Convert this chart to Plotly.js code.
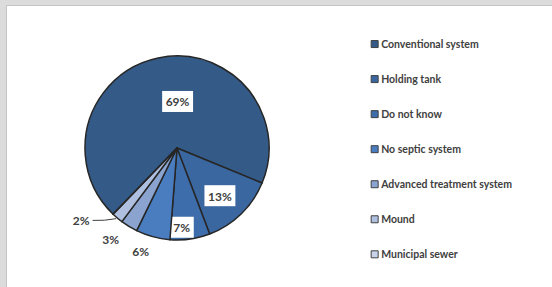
<!DOCTYPE html>
<html>
<head>
<meta charset="utf-8">
<script src="https://cdn.plot.ly/plotly-3.0.1.min.js"></script>
<style>
html,body{margin:0;padding:0;background:#fff;}
#wrap{position:relative;width:552px;height:287px;overflow:hidden;}
#chart{position:absolute;left:0;top:0;width:552px;height:287px;}
.deco{position:absolute;pointer-events:none;}
</style>
</head>
<body>
<div id="wrap">
<div id="chart"></div>
<div class="deco" style="left:0;top:0;width:552px;height:5px;background:#dcdcdc;"></div>
<div class="deco" style="left:0;top:0;width:6px;height:287px;background:#dcdcdc;"></div>
<div class="deco" style="left:6px;top:5px;width:546px;height:1px;background:#c4c4c4;"></div>
<div class="deco" style="left:6px;top:5px;width:1px;height:282px;background:#c4c4c4;"></div>
</div>
<script>
var categories = ["Conventional system", "Holding tank", "Do not know", "No septic system", "Advanced treatment system", "Mound", "Municipal sewer"];
var shares = [69, 13, 7, 6, 3, 2, 0];
var sliceColors = ["#345a88", "#3a67a0", "#3e6dab", "#4a7dc0", "#8aa3cf", "#afbfdf", "#c9d3e9"];
var labelPositions = ["inside", "inside", "inside", "outside", "outside", "outside", "none"];
// pixel nudges applied to the library-placed labels (style only)
var labelNudge = [[10, -1], [-3, 1], [-6, 5], [0, -1], [-6, 2], [-24, -2], [0, 0]];

var trace = {
  type: "pie",
  labels: categories,
  values: shares,
  sort: false,
  direction: "clockwise",
  rotation: 224,
  marker: {colors: sliceColors, line: {color: "#262626", width: 1.5}},
  textinfo: "percent",
  texttemplate: "%{value}%",
  textposition: labelPositions,
  insidetextorientation: "horizontal",
  textfont: {family: "Lato, sans-serif", size: 12, color: "#404040", weight: 700},
  domain: {x: [85/552, 269/552], y: [(287-240)/287, (287-56)/287]},
  hoverinfo: "label+percent",
  showlegend: true
};

var layout = {
  width: 552, height: 287,
  margin: {l: 0, r: 0, t: 0, b: 0, autoexpand: false},
  paper_bgcolor: "#ffffff",
  showlegend: true,
  legend: {
    x: 0.6425, xanchor: "left", y: 0.925, yanchor: "top",
    font: {family: "Lato, sans-serif", size: 24.65, color: "#404040", weight: 700},
    traceorder: "normal", bgcolor: "rgba(0,0,0,0)"
  }
};

Plotly.newPlot("chart", [trace], layout, {staticPlot: true}).then(function(gd){
  gd.querySelectorAll(".legend .traces").forEach(function(tr){
    var t = tr.querySelector(".legendtext");
    if (t) {
      t.style.fontSize = "10.5px";
      t.setAttribute("x", "26.5");
      t.setAttribute("y", "3.7");
    }
    tr.querySelectorAll(".legendpie path, .legendpoints path").forEach(function(p){
      p.setAttribute("d", "M3.5,3.5H-3.5V-3.5H3.5Z");
      p.style.strokeWidth = "1px";
      p.style.stroke = "#404040";
    });
  });
  var NS = "http://www.w3.org/2000/svg";
  gd.querySelectorAll(".slice").forEach(function(s, i){
    var t = s.querySelector("text.slicetext");
    if (!t) return;
    var n = labelNudge[i] || [0, 0];
    var tf = t.getAttribute("transform") || "";
    var ntf = "translate(" + n[0] + "," + n[1] + ") " + tf;
    t.setAttribute("transform", ntf);
    var line = s.querySelector("path.textline");
    if (labelPositions[i] === "inside") {
      var b = t.getBBox();
      var r = document.createElementNS(NS, "rect");
      r.setAttribute("x", b.x - 3.5); r.setAttribute("y", b.y - 3.5);
      r.setAttribute("width", b.width + 7); r.setAttribute("height", b.height + 6);
      r.setAttribute("fill", "#ffffff");
      r.setAttribute("transform", ntf);
      t.parentNode.insertBefore(r, t);
    } else if (labelPositions[i] === "outside") {
      if (line) line.parentNode.removeChild(line);
      if (i === labelPositions.lastIndexOf("outside")) {
        var bb = t.getBoundingClientRect();
        var gb = gd.getBoundingClientRect();
        var lx = bb.right - gb.left + 3, ly = (bb.top + bb.bottom) / 2 - gb.top;
        var slicePath = s.querySelector("path.surface");
        var pb = slicePath.getBoundingClientRect();
        var ex = pb.left - gb.left + 3, ey = pb.bottom - gb.top - 3;
        var p = document.createElementNS(NS, "path");
        p.setAttribute("d", "M" + lx + "," + ly + "Q" + ((lx + ex) / 2) + "," + (ly + 0.5) + " " + ex + "," + ey);
        p.setAttribute("fill", "none");
        p.setAttribute("stroke", "#404040");
        p.setAttribute("stroke-width", "1");
        gd.querySelectorAll(".main-svg")[0].appendChild(p);
      }
    }
  });
});
</script>
</body>
</html>
